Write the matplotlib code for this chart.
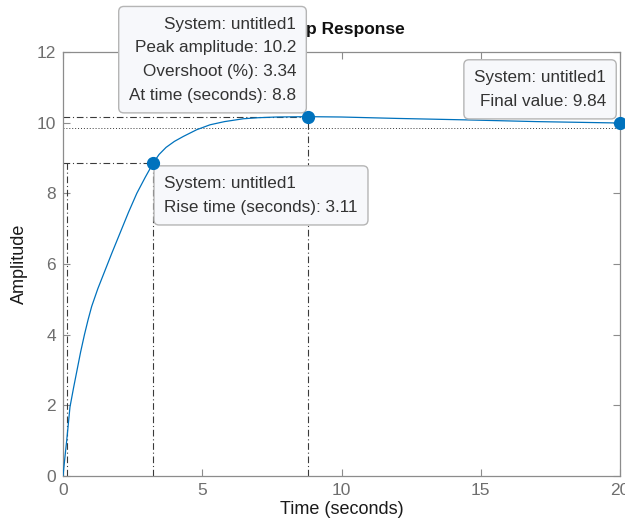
import numpy as np
import matplotlib.pyplot as plt

plt.rcParams['font.family'] = ['Liberation Sans', 'DejaVu Sans']

# step response samples (time in s, amplitude)
t = [0, 0.06, 0.13, 0.25, 0.38, 0.5, 0.63, 0.77, 0.9, 1.03, 1.25, 1.45,
     1.75, 2.05, 2.35, 2.65, 2.95, 3.24, 3.45, 3.7, 4.0, 4.32, 4.8, 5.28,
     5.8, 6.47, 7.0, 7.67, 8.8, 10, 12, 14.4, 17, 20]
y = [0, 0.46, 0.98, 1.95, 2.5, 2.98, 3.5, 4.0, 4.42, 4.8, 5.3, 5.7,
     6.3, 6.88, 7.46, 8.0, 8.45, 8.86, 9.1, 9.3, 9.47, 9.61, 9.8, 9.94,
     10.03, 10.11, 10.14, 10.16, 10.17, 10.16, 10.12, 10.08, 10.03, 9.99]

system_name = 'untitled1'
final_value = 9.84
overshoot = 3.34
peak_time = 8.8
rise_time = 3.11
t_rise_lo = 0.13
t_rise_hi = t_rise_lo + rise_time
peak_amp = final_value * (1 + overshoot / 100)
rise_level = 0.9 * final_value

xticks = [0, 5, 10, 15, 20]
yticks = [0, 2, 4, 6, 8, 10, 12]

blue = '#0072BD'
edge = '#8c8c8c'
tick_col = '#6e6e6e'
ref_col = '#3a3a3a'

fig = plt.figure(figsize=(6.25, 5.31), dpi=100)
ax = fig.add_axes([63 / 625, 55 / 531, 557 / 625, 424 / 531])

ax.plot(t, y, color=blue, lw=0.9, zorder=3)

# reference lines
ax.axhline(final_value, color=ref_col, ls=(0, (1, 2)), lw=0.7, zorder=2)
dd = (0, (6, 2.5, 1, 2.5))
ax.plot([0, peak_time], [peak_amp, peak_amp], color=ref_col, ls=dd, lw=0.8, zorder=2)
ax.plot([peak_time, peak_time], [0, peak_amp], color=ref_col, ls=dd, lw=0.8, zorder=2)
ax.plot([0, t_rise_hi], [rise_level, rise_level], color=ref_col, ls=dd, lw=0.8, zorder=2)
ax.plot([t_rise_hi, t_rise_hi], [0, rise_level], color=ref_col, ls=dd, lw=0.8, zorder=2)
ax.plot([t_rise_lo, t_rise_lo], [0, rise_level], color=ref_col, ls=dd, lw=0.8, zorder=2)

# data tip markers
ax.plot([peak_time, t_rise_hi, t[-1]], [peak_amp, rise_level, y[-1]], 'o',
        color=blue, ms=8.5, zorder=12, clip_on=False)

box = dict(boxstyle='round,pad=0.6,rounding_size=0.3', fc='#f7f8fb', ec='#b5b5b5', lw=1.0)
tip = dict(fontsize=12.3, color='#333333', linespacing=1.72, zorder=10,
           textcoords='offset pixels', annotation_clip=False, bbox=box, va='top')

ax.annotate('System: %s\nPeak amplitude: %.1f\nOvershoot (%%): %.2f\nAt time (seconds): %.1f'
            % (system_name, peak_amp, overshoot, peak_time),
            xy=(peak_time, peak_amp), xytext=(-12, 100), ha='right', **tip)
ax.annotate('System: %s\nRise time (seconds): %.2f' % (system_name, rise_time),
            xy=(t_rise_hi, rise_level), xytext=(11, -13), ha='left', **tip)
ax.annotate('System: %s\nFinal value: %.2f' % (system_name, final_value),
            xy=(t[-1], y[-1]), xytext=(-14, 53), ha='right', **tip)

ax.set_xlim(0, 20)
ax.set_ylim(0, 12)
ax.set_xticks(xticks)
ax.set_yticks(yticks)
ax.tick_params(direction='in', top=True, right=True, length=5, width=0.8,
               colors=edge, labelcolor=tick_col, labelsize=12.5, pad=5)
for s in ax.spines.values():
    s.set_color(edge)
    s.set_linewidth(0.9)

ax.set_xlabel('Time (seconds)', fontsize=13, color='#1a1a1a', labelpad=2)
ax.set_ylabel('Amplitude', fontsize=13, color='#1a1a1a', labelpad=6)
ax.set_title('Step Response', fontsize=12.5, fontweight='bold', color='#111111', pad=13)

fig.savefig('out.png', dpi=100)
